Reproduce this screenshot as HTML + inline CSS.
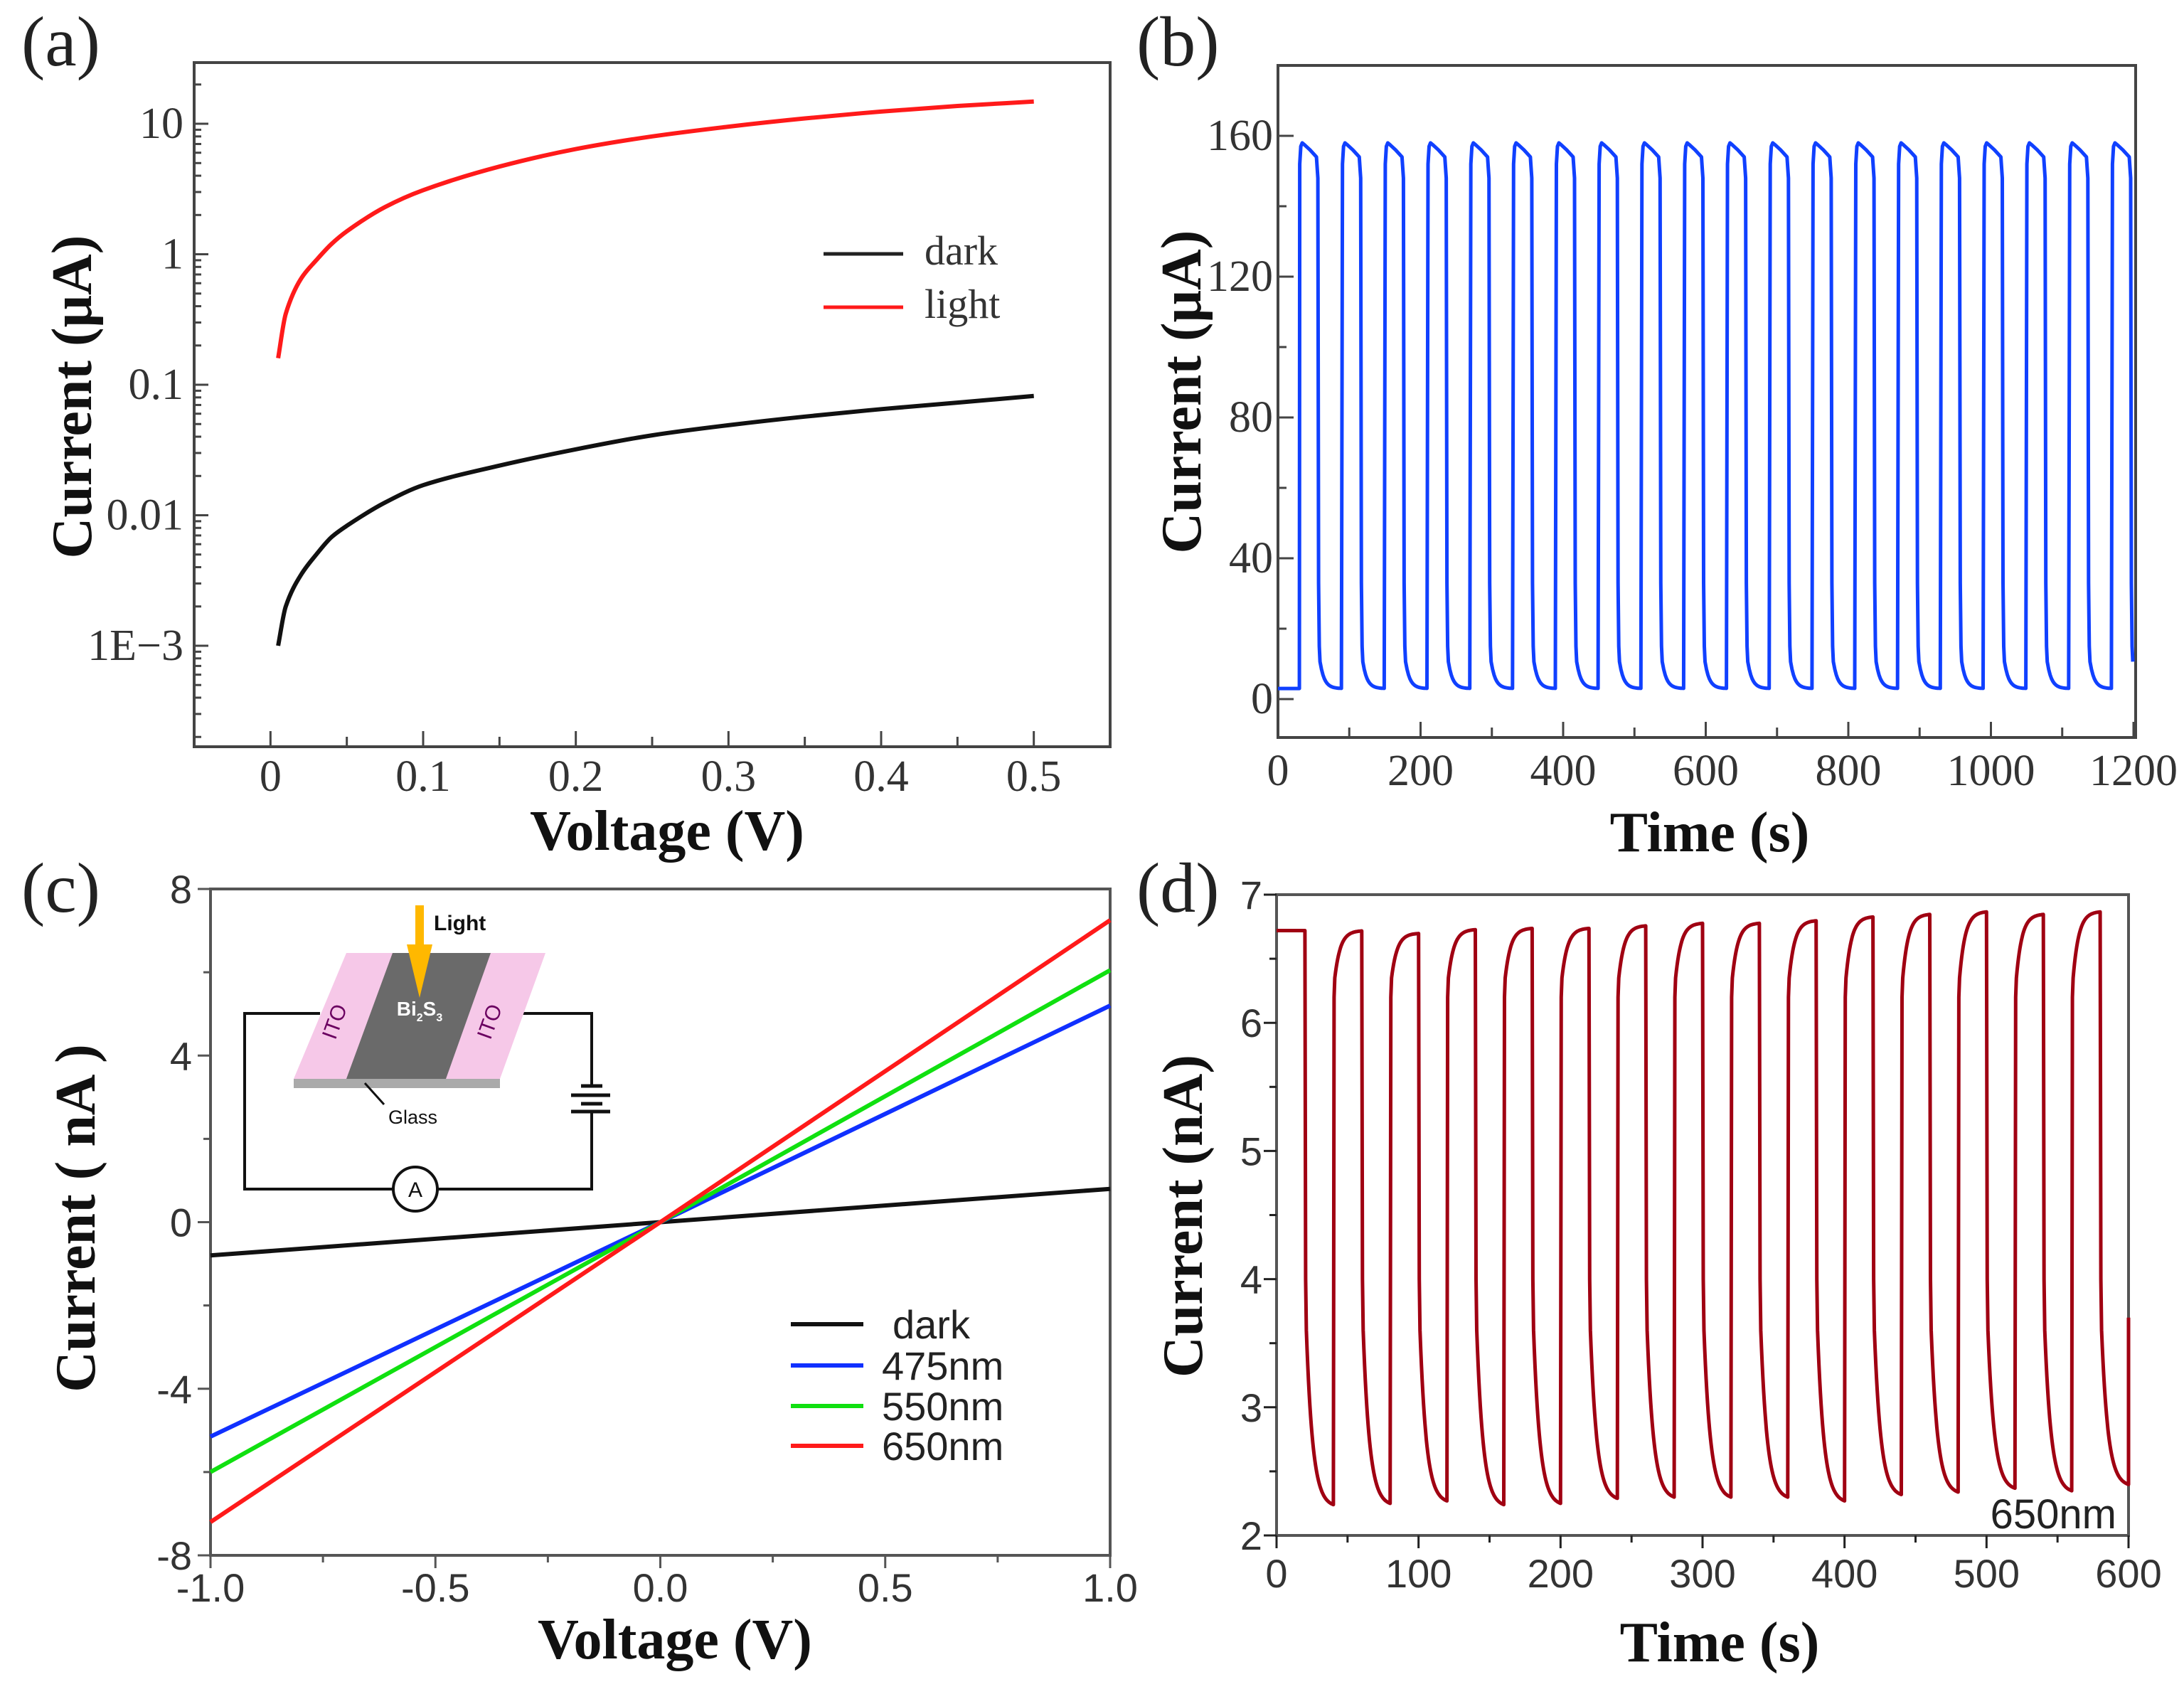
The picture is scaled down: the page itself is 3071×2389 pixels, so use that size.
<!DOCTYPE html>
<html><head><meta charset="utf-8">
<style>
html,body{margin:0;padding:0;background:#fff;}
svg{display:block;}
.serif{font-family:"Liberation Serif",serif;}
.sans{font-family:"Liberation Sans",sans-serif;}
</style></head>
<body>
<svg id="fig" width="3071" height="2389" viewBox="0 0 3071 2389" xmlns="http://www.w3.org/2000/svg">
<rect width="3071" height="2389" fill="#fff"/>
<text class="serif" x="30" y="92" font-size="100" fill="#222">(a)</text>
<text class="serif" x="1598" y="92" font-size="100" fill="#222">(b)</text>
<text class="serif" x="30" y="1282" font-size="100" fill="#222">(c)</text>
<text class="serif" x="1598" y="1282" font-size="100" fill="#222">(d)</text>

<text class="serif" x="938" y="1195" font-size="80" font-weight="bold" text-anchor="middle" fill="#111">Voltage (V)</text>
<text class="serif" transform="translate(128,558) rotate(-90)" font-size="80" font-weight="bold" text-anchor="middle" fill="#111">Current (μA)</text>
<text class="serif" x="2404" y="1197" font-size="80" font-weight="bold" text-anchor="middle" fill="#111">Time (s)</text>
<text class="serif" transform="translate(1688,551) rotate(-90)" font-size="80" font-weight="bold" text-anchor="middle" fill="#111">Current (μA)</text>
<text class="serif" x="949" y="2332" font-size="80" font-weight="bold" text-anchor="middle" fill="#111">Voltage (V)</text>
<text class="serif" transform="translate(133,1713) rotate(-90)" font-size="80" font-weight="bold" text-anchor="middle" fill="#111">Current ( nA )</text>
<text class="serif" x="2418" y="2336" font-size="80" font-weight="bold" text-anchor="middle" fill="#111">Time (s)</text>
<text class="serif" transform="translate(1690,1710) rotate(-90)" font-size="80" font-weight="bold" text-anchor="middle" fill="#111">Current (nA)</text>

<g>
  <polyline points="450,1425 344,1425 344,1672 553,1672" fill="none" stroke="#111" stroke-width="4"/>
  <polyline points="723,1425 832,1425 832,1527" fill="none" stroke="#111" stroke-width="4"/>
  <polyline points="832,1563 832,1672 615,1672" fill="none" stroke="#111" stroke-width="4"/>
  <g stroke="#111" stroke-width="5">
    <line x1="817" y1="1527" x2="847" y2="1527"/>
    <line x1="803" y1="1540" x2="858" y2="1540"/>
    <line x1="817" y1="1552" x2="847" y2="1552"/>
    <line x1="803" y1="1563" x2="858" y2="1563"/>
  </g>
  <ellipse cx="584" cy="1672" rx="31" ry="31" fill="#fff" stroke="#111" stroke-width="4"/>
  <text class="sans" x="584" y="1683" font-size="30" text-anchor="middle" fill="#111">A</text>
  <polygon points="413,1517 703,1517 703,1530 413,1530" fill="#aaa"/>
  <polygon points="487,1340 767,1340 703,1517 413,1517" fill="#f6c8e8"/>
  <polygon points="552,1340 690,1340 627,1517 487,1517" fill="#6a6a6a"/>
  <text class="sans" transform="translate(480,1440) rotate(-70)" font-size="30" fill="#6a0060" text-anchor="middle">ITO</text>
  <text class="sans" transform="translate(698,1440) rotate(-70)" font-size="30" fill="#6a0060" text-anchor="middle">ITO</text>
  <text class="sans" x="590" y="1428" font-size="28" font-weight="bold" fill="#fff" text-anchor="middle">Bi<tspan font-size="16" dy="8">2</tspan><tspan dy="-8">S</tspan><tspan font-size="16" dy="8">3</tspan></text>
  <rect x="584" y="1273" width="12" height="60" fill="#ffb800"/>
  <polygon points="572,1328 608,1328 590,1403" fill="#ffb800"/>
  <text class="sans" x="610" y="1308" font-size="30" font-weight="bold" fill="#111">Light</text>
  <line x1="513" y1="1523" x2="540" y2="1553" stroke="#111" stroke-width="3"/>
  <text class="sans" x="546" y="1580" font-size="27" fill="#111">Glass</text>
</g>
<g id="plots"></g>
</svg>
<script>
// ---------- Panel (a) data ----------
const aVolt = [0.005,0.01,0.02,0.03,0.04,0.05,0.075,0.1,0.15,0.2,0.25,0.3,0.35,0.4,0.45,0.5];
const aLight = [0.16,0.35,0.65,0.9,1.2,1.5,2.3,3.1,4.7,6.4,8.0,9.5,11.0,12.4,13.7,14.8];
const aDark = [0.001,0.002,0.0035,0.005,0.0068,0.0083,0.0125,0.017,0.024,0.032,0.041,0.049,0.057,0.065,0.073,0.082];
const aXTicks = [0,0.1,0.2,0.3,0.4,0.5];
const aXTickLabels = ["0","0.1","0.2","0.3","0.4","0.5"];
const aYTicks = [10,1,0.1,0.01,0.001];
const aYTickLabels = ["10","1","0.1","0.01","1E\u22123"];
// ---------- Panel (b) data ----------
const bRise = [30,90,150,210,270,330,390,450,510,570,630,690,750,810,870,930,990,1050,1110,1170];
const bPeak = [158,158,158,158,158,158,158,158,158,158,158,158,158,158,158,158,158,158,158,158];
const bLow = [3,3,3,3,3,3,3,3,3,3,3,3,3,3,3,3,3,3,3,3];
const bXTicks = [0,200,400,600,800,1000,1200];
const bYTicks = [0,40,80,120,160];
// ---------- Panel (c) data ----------
const cVolt = [-1,0,1];
const cDark = [-0.8,0,0.8];
const c475 = [-5.15,0,5.2];
const c550 = [-6.0,0,6.05];
const c650 = [-7.2,0,7.25];
const cXTicks = [-1,-0.5,0,0.5,1];
const cXTickLabels = ["-1.0","-0.5","0.0","0.5","1.0"];
const cYTicks = [-8,-4,0,4,8];
// ---------- Panel (d) data ----------
const dDrop = [20,60,100,140,180,220,260,300,340,380,420,460,500,540,580];
const dPeak = [6.72,6.72,6.70,6.73,6.74,6.74,6.76,6.78,6.78,6.80,6.83,6.85,6.87,6.85,6.87];
const dTrough = [2.22,2.23,2.25,2.22,2.23,2.27,2.28,2.28,2.28,2.25,2.30,2.32,2.35,2.33,2.38];
const dXTicks = [0,100,200,300,400,500,600];
const dYTicks = [2,3,4,5,6,7];

const NS = "http://www.w3.org/2000/svg";
const root = document.getElementById('plots');
function mk(tag, attrs, name, parent) {
  const el = document.createElementNS(NS, tag);
  for (const k in attrs) el.setAttribute(k, attrs[k]);
  
  
  (parent || root).appendChild(el);
  return el;
}
function txt(x, y, s, size, cls, anchor, name, extra) {
  const el = mk('text', Object.assign({x:x, y:y, 'font-size':size, class:cls, 'text-anchor':anchor, fill:'#333'}, extra||{}), name);
  el.textContent = s;
  return el;
}
function linear(d0, d1, r0, r1) { return v => r0 + (v - d0) / (d1 - d0) * (r1 - r0); }
function pathFrom(pts) { return pts.map((p,i)=>(i?'L':'M')+p[0].toFixed(1)+','+p[1].toFixed(1)).join(''); }
// monotone cubic (Fritsch-Carlson) in pixel space
function monoPath(pts) {
  const n=pts.length, xs=pts.map(p=>p[0]), ys=pts.map(p=>p[1]);
  const d=[], m=[];
  for (let i=0;i<n-1;i++) d.push((ys[i+1]-ys[i])/(xs[i+1]-xs[i]));
  m[0]=d[0]; m[n-1]=d[n-2];
  for (let i=1;i<n-1;i++) m[i]=(d[i-1]*d[i]<=0)?0:2/(1/d[i-1]+1/d[i]);
  let s='M'+xs[0].toFixed(1)+','+ys[0].toFixed(1);
  for (let i=0;i<n-1;i++){
    const h=(xs[i+1]-xs[i])/3;
    s+='C'+(xs[i]+h).toFixed(1)+','+(ys[i]+m[i]*h).toFixed(1)+' '+(xs[i+1]-h).toFixed(1)+','+(ys[i+1]-m[i+1]*h).toFixed(1)+' '+xs[i+1].toFixed(1)+','+ys[i+1].toFixed(1);
  }
  return s;
}

// ================= Panel a =================
(function(){
  const L=273,R=1561,T=88,B=1050;
  const x = linear(-0.05,0.55,L,R);
  const ly = linear(1.469,-3.774,T,B);
  const y = v => ly(Math.log10(v));
  mk('rect',{x:L,y:T,width:R-L,height:B-T,fill:'none',stroke:'#444','stroke-width':4},'a-plot-frame');
  for (let v=0; v<=0.5001; v+=0.05) {
    const major = Math.abs(v*10-Math.round(v*10))<1e-6;
    mk('line',{x1:x(v),x2:x(v),y1:B,y2:B-(major?22:14),stroke:'#444','stroke-width':3},'a-x-tick');
  }
  aXTicks.forEach((v,i)=>txt(x(v),1112,aXTickLabels[i],62,'serif','middle','a-x-tick-label'));
  for (let e=-4; e<=1; e++) for (let m=1;m<10;m++){
    const v=m*Math.pow(10,e); const yy=y(v);
    if (yy<T||yy>B) continue;
    mk('line',{x1:L,x2:L+(m===1?20:10),y1:yy,y2:yy,stroke:'#444','stroke-width':3},'a-y-tick');
  }
  aYTicks.forEach((v,i)=>txt(258,y(v)+20,aYTickLabels[i],62,'serif','end','a-y-tick-label'));
  mk('path',{d:monoPath(aVolt.map((v,i)=>[x(v),y(aLight[i])])),fill:'none',stroke:'#ff1a1a','stroke-width':6},'a-light-curve');
  mk('path',{d:monoPath(aVolt.map((v,i)=>[x(v),y(aDark[i])])),fill:'none',stroke:'#111','stroke-width':6},'a-dark-curve');
  mk('line',{x1:1158,x2:1270,y1:357,y2:357,stroke:'#222','stroke-width':5},'a-legend-dark-line');
  txt(1300,372,'dark',58,'serif','start','a-legend-dark-label');
  mk('line',{x1:1158,x2:1270,y1:432,y2:432,stroke:'#ff1a1a','stroke-width':5},'a-legend-light-line');
  txt(1300,447,'light',58,'serif','start','a-legend-light-label');
})();

// ================= Panel b =================
(function(){
  const L=1797,R=3003,T=92,B=1037;
  const x = linear(0,1200,L,3000);
  const y = linear(160,0,191,983);
  mk('rect',{x:L,y:T,width:R-L,height:B-T,fill:'none',stroke:'#444','stroke-width':4},'b-plot-frame');
  for (let v=0; v<=1200; v+=100) mk('line',{x1:x(v),x2:x(v),y1:B,y2:B-(v%200===0?22:14),stroke:'#444','stroke-width':3},'b-x-tick');
  bXTicks.forEach(v=>txt(x(v),1104,String(v),62,'serif','middle','b-x-tick-label'));
  for (let v=0; v<=160; v+=20) mk('line',{x1:L,x2:L+(v%40===0?22:12),y1:y(v),y2:y(v),stroke:'#444','stroke-width':3},'b-y-tick');
  bYTicks.forEach(v=>txt(1790,y(v)+20,String(v),62,'serif','end','b-y-tick-label'));
  const pts=[[0,bLow[0]],[bRise[0],bLow[0]]];
  bRise.forEach((r,i)=>{
    const pk=bPeak[i], lo=bLow[i];
    pts.push([r+0.5,pk-6],[r+2,pk-1],[r+4,pk],[r+7,pk-0.5],[r+15,pk-2],[r+24,pk-4],[r+26,pk-10]);
    pts.push([r+27,lo+30],[r+28,lo+12]);
    const end = (i+1<bRise.length)? bRise[i+1] : 1200;
    for (let t=r+29; t<=end; t+=2){ pts.push([t, lo + 9*Math.exp(-(t-r-28)/6)]); }
  });
  mk('path',{d:pathFrom(pts.filter(p=>p[0]<=1200).map(p=>[x(p[0]),y(p[1])])),fill:'none',stroke:'#1040ff','stroke-width':5,'stroke-linejoin':'round'},'b-photocurrent-trace');
})();

// ================= Panel c =================
(function(){
  const L=296,R=1561,T=1250,B=2187;
  const x = linear(-1,1,L,R);
  const y = linear(8,-8,T,B);
  mk('rect',{x:L,y:T,width:R-L,height:B-T,fill:'none',stroke:'#555','stroke-width':4},'c-plot-frame');
  for (let v=-1; v<=1.001; v+=0.25) mk('line',{x1:x(v),x2:x(v),y1:B,y2:B+(Math.abs(v*2-Math.round(v*2))<1e-6?18:10),stroke:'#555','stroke-width':3},'c-x-tick');
  cXTicks.forEach((v,i)=>txt(x(v),2252,cXTickLabels[i],56,'sans','middle','c-x-tick-label'));
  for (let v=-8; v<=8; v+=2) mk('line',{x1:L,x2:L-(v%4===0?18:10),y1:y(v),y2:y(v),stroke:'#555','stroke-width':3},'c-y-tick');
  cYTicks.forEach(v=>txt(270,y(v)+20,String(v),56,'sans','end','c-y-tick-label'));
  const series=[[cDark,'#111','c-dark-line'],[c475,'#1030ff','c-475nm-line'],[c550,'#10e010','c-550nm-line'],[c650,'#ff1a1a','c-650nm-line']];
  series.forEach(s=>mk('path',{d:pathFrom(cVolt.map((v,i)=>[x(v),y(s[0][i])])),fill:'none',stroke:s[1],'stroke-width':6},s[2]));
  const legend=[['dark','#111',1862],['475nm','#1030ff',1920],['550nm','#10e010',1977],['650nm','#ff1a1a',2033]];
  legend.forEach(l=>{
    mk('line',{x1:1112,x2:1214,y1:l[2],y2:l[2],stroke:l[1],'stroke-width':6},'c-legend-line');
    txt(l[0]==='dark'?1255:1240,l[2]+20,l[0],56,'sans','start','c-legend-label',{fill:'#222'});
  });
})();

// ================= Panel d =================
(function(){
  const L=1795,R=2993,T=1258,B=2159;
  const x = linear(0,600,L,R);
  const y = linear(7,2,T,B);
  mk('rect',{x:L,y:T,width:R-L,height:B-T,fill:'none',stroke:'#555','stroke-width':4},'d-plot-frame');
  for (let v=0; v<=600; v+=50) mk('line',{x1:x(v),x2:x(v),y1:B,y2:B+(v%100===0?18:10),stroke:'#222','stroke-width':3},'d-x-tick');
  dXTicks.forEach(v=>txt(x(v),2232,String(v),56,'sans','middle','d-x-tick-label'));
  for (let v=2; v<=7; v+=0.5) mk('line',{x1:L,x2:L-(Number.isInteger(v)?18:10),y1:y(v),y2:y(v),stroke:'#222','stroke-width':3},'d-y-tick');
  dYTicks.forEach(v=>txt(1775,y(v)+20,String(v),56,'sans','end','d-y-tick-label'));
  const pts=[[0,dPeak[0]],[dDrop[0],dPeak[0]]];
  dDrop.forEach((t0,i)=>{
    const lo=dTrough[i];
    pts.push([t0+0.5,4.0]);
    for (let t=t0+1; t<=t0+20.01; t+=0.5) pts.push([t, lo + (3.6-lo)*Math.exp(-(t-t0-1)/4.5)]);
    if (i+1<dDrop.length){
      const pk=dPeak[i+1], r=t0+20;
      pts.push([r+0.5,6.2]);
      for (let t=r+1; t<=r+20.01; t+=0.5) pts.push([t, pk - (pk-6.35)*Math.exp(-(t-r-1)/4)]);
    }
  });
  pts.push([600,3.7]);
  mk('path',{d:pathFrom(pts.map(p=>[x(p[0]),y(p[1])])),fill:'none',stroke:'#a00012','stroke-width':5,'stroke-linejoin':'round'},'d-photocurrent-trace');
  txt(2976,2149,'650nm',58,'sans','end','d-wavelength-label',{fill:'#222'});
})();
</script>
</body></html>
